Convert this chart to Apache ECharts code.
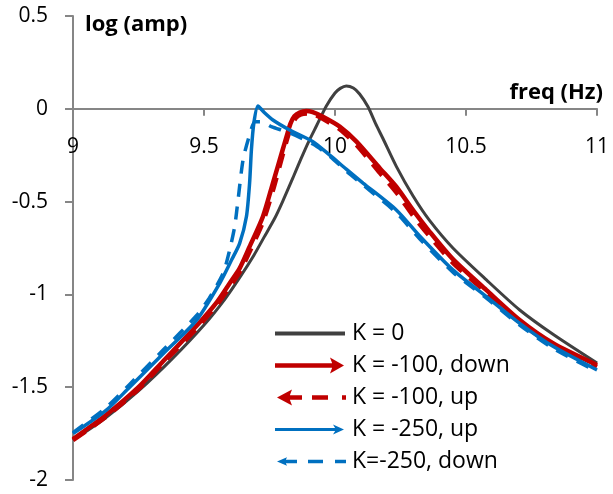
<!DOCTYPE html>
<html>
<head>
<meta charset="utf-8">
<script src="https://cdn.jsdelivr.net/npm/echarts@6/dist/echarts.min.js"></script>
<style>
  html, body { margin: 0; padding: 0; background: #fff; }
  #chart { width: 613px; height: 494px; }
</style>
</head>
<body>
<div id="chart"></div>
<script>
// Data
// ------------------------------

// K = 0
var freqK0 = [9.0, 9.12, 9.25, 9.38, 9.5, 9.58, 9.636, 9.69, 9.73, 9.77, 9.8, 9.84, 9.87, 9.9, 9.93, 9.967, 10.0, 10.02, 10.043, 10.07, 10.094, 10.126, 10.155, 10.183, 10.234, 10.298, 10.36, 10.45, 10.578, 10.705, 10.832, 11.0];
var ampK0  = [-1.785, -1.67, -1.52, -1.345, -1.165, -1.025, -0.91, -0.79, -0.69, -0.59, -0.5, -0.37, -0.27, -0.175, -0.09, 0.015, 0.085, 0.11, 0.123, 0.112, 0.08, 0.011, -0.08, -0.16, -0.31, -0.47, -0.6, -0.75, -0.922, -1.084, -1.215, -1.37];

// K = -100, down
var freqK100Down = [9.0, 9.126, 9.25, 9.344, 9.471, 9.55, 9.598, 9.636, 9.674, 9.725, 9.763, 9.8, 9.815, 9.83, 9.845, 9.865, 9.89, 9.915, 9.954, 10.018, 10.082, 10.171, 10.234, 10.3, 10.36, 10.45, 10.578, 10.705, 10.832, 11.0];
var ampK100Down  = [-1.78, -1.65, -1.5, -1.36, -1.17, -1.04, -0.94, -0.86, -0.743, -0.58, -0.4, -0.222, -0.15, -0.08, -0.04, -0.02, -0.012, -0.018, -0.043, -0.096, -0.177, -0.32, -0.42, -0.55, -0.66, -0.81, -0.977, -1.138, -1.263, -1.38];

// K = -100, up
var freqK100Up = [9.0, 9.126, 9.25, 9.344, 9.471, 9.55, 9.598, 9.636, 9.674, 9.725, 9.763, 9.8, 9.82, 9.835, 9.85, 9.87, 9.895, 9.92, 9.955, 10.018, 10.082, 10.171, 10.234, 10.3, 10.36, 10.45, 10.578, 10.705, 10.832, 11.0];
var ampK100Up  = [-1.785, -1.66, -1.51, -1.37, -1.185, -1.055, -0.96, -0.88, -0.77, -0.61, -0.44, -0.25, -0.15, -0.09, -0.05, -0.03, -0.025, -0.03, -0.055, -0.11, -0.195, -0.345, -0.45, -0.58, -0.685, -0.83, -0.99, -1.15, -1.272, -1.39];

// K = -250, up
var freqK250Up = [9.0, 9.126, 9.216, 9.344, 9.471, 9.56, 9.605, 9.636, 9.662, 9.674, 9.681, 9.69, 9.706, 9.73, 9.763, 9.827, 9.916, 9.98, 10.043, 10.107, 10.234, 10.323, 10.45, 10.578, 10.705, 10.832, 11.0];
var ampK250Up  = [-1.75, -1.625, -1.5, -1.32, -1.14, -0.94, -0.815, -0.725, -0.58, -0.4, -0.22, -0.08, 0.015, -0.02, -0.06, -0.114, -0.177, -0.25, -0.325, -0.4, -0.545, -0.685, -0.868, -1.012, -1.156, -1.28, -1.407];

// K = -250, down
var freqK250Down = [9.0, 9.126, 9.216, 9.344, 9.471, 9.52, 9.573, 9.598, 9.617, 9.63, 9.649, 9.672, 9.695, 9.719, 9.757, 9.827, 9.916, 9.98, 10.043, 10.107, 10.234, 10.323, 10.45, 10.578, 10.705, 10.832, 11.0];
var ampK250Down  = [-1.745, -1.61, -1.485, -1.3, -1.115, -1.02, -0.886, -0.76, -0.635, -0.49, -0.276, -0.15, -0.07, -0.07, -0.096, -0.13, -0.19, -0.255, -0.335, -0.41, -0.56, -0.7, -0.88, -1.02, -1.165, -1.29, -1.415];

var seriesNames = ['K = 0', 'K = -100, down', 'K = -100, up', 'K = -250, up', 'K=-250, down'];

// Legend icons (72 x 16 box, with tiny corner anchors)
var anchor = 'M0,0L0.05,0L0,0.05Z M72,16L71.95,16L72,15.95Z ';
var legendIcons = [
    anchor + 'M0,6L70,6L70,10L0,10Z',
    anchor + 'M0,5.8L58,5.8L58,10.2L0,10.2Z M69,8L55,16L58,8L55,0Z',
    anchor + 'M2,8L17,0L14,8L17,16Z M14,5.8L27,5.8L27,10.2L14,10.2Z M37,5.8L53,5.8L53,10.2L37,10.2Z M67,5.8L71,5.8L71,10.2L67,10.2Z',
    anchor + 'M0,6.5L62,6.5L62,9.5L0,9.5Z M69,8L58,13L61,8L58,3Z',
    anchor + 'M2,8L12,3.8L10,8L12,12.2Z M10,6.2L22,6.2L22,9.8L10,9.8Z M33,6.2L48,6.2L48,9.8L33,9.8Z M60,6.2L71,6.2L71,9.8L60,9.8Z'
];

function pairs(xs, ys) {
    return xs.map(function(x, i) { return [x, ys[i]]; });
}

var fontName = '"Open Sans", sans-serif';
var axisGrey = '#868686';

var chart = echarts.init(document.getElementById('chart'));

chart.setOption({
    animation: false,
    textStyle: {
        fontFamily: fontName
    },
    grid: {
        left: 73,
        right: 16,
        top: 16,
        bottom: 14,
        outerBoundsMode: 'none',
        containLabel: false
    },
    legend: {
        orient: 'vertical',
        left: 270,
        top: 317,
        itemWidth: 72,
        itemHeight: 16,
        itemGap: 9,
        itemStyle: {
            borderWidth: 0
        },
        textStyle: {
            fontFamily: fontName,
            fontSize: 23,
            lineHeight: 20,
            color: '#000'
        },
        data: seriesNames.map(function(n, i) {
            return { name: n, icon: 'path://' + legendIcons[i] };
        })
    },
    xAxis: {
        type: 'value',
        position: 'bottom',
        min: 9,
        max: 11,
        interval: 0.5,
        name: 'freq (Hz)',
        nameLocation: 'end',
        nameGap: 6,
        nameTextStyle: {
            fontFamily: fontName,
            fontSize: 22,
            fontWeight: 'bold',
            color: '#000',
            align: 'right',
            verticalAlign: 'bottom',
            padding: [0, 0, 5, 0]
        },
        axisLine: {
            onZero: false,
            lineStyle: { color: axisGrey, width: 2 }
        },
        axisTick: {
            length: 7,
            lineStyle: { color: axisGrey, width: 2 }
        },
        axisLabel: {
            margin: 28,
            fontSize: 21,
            color: '#000'
        },
        splitLine: { show: false }
    },
    yAxis: {
        type: 'value',
        min: -2,
        max: 0.5,
        interval: 0.5,
        name: 'log (amp)',
        nameLocation: 'end',
        nameGap: 2,
        nameTextStyle: {
            fontFamily: fontName,
            fontSize: 22,
            fontWeight: 'bold',
            color: '#000',
            align: 'left',
            verticalAlign: 'top',
            padding: [0, 0, 0, 12]
        },
        axisLine: {
            show: true,
            lineStyle: { color: axisGrey, width: 2 }
        },
        axisTick: {
            show: true,
            length: 8,
            lineStyle: { color: axisGrey, width: 2 }
        },
        axisLabel: {
            margin: 25,
            fontSize: 21,
            color: '#000'
        },
        splitLine: { show: false }
    },
    series: [{
        name: seriesNames[0],
        type: 'line',
        showSymbol: false,
        smooth: 0.25,
        color: '#404040',
        lineStyle: { width: 3 },
        data: pairs(freqK0, ampK0)
    }, {
        name: seriesNames[1],
        type: 'line',
        showSymbol: false,
        smooth: 0.25,
        color: '#C00000',
        lineStyle: { width: 4.5 },
        data: pairs(freqK100Down, ampK100Down)
    }, {
        name: seriesNames[2],
        type: 'line',
        showSymbol: false,
        smooth: 0.25,
        color: '#C00000',
        lineStyle: { width: 4.5, type: [15, 10] },
        data: pairs(freqK100Up, ampK100Up)
    }, {
        name: seriesNames[3],
        type: 'line',
        showSymbol: false,
        smooth: 0.25,
        color: '#0070C0',
        lineStyle: { width: 3.5 },
        data: pairs(freqK250Up, ampK250Up)
    }, {
        name: seriesNames[4],
        type: 'line',
        showSymbol: false,
        smooth: 0.25,
        color: '#0070C0',
        lineStyle: { width: 3.5, type: [13, 10] },
        data: pairs(freqK250Down, ampK250Down)
    }]
});

// Move the x axis up to the y = 0 line
var yZeroPx = chart.convertToPixel({ yAxisIndex: 0 }, 0);
var yBottomPx = chart.convertToPixel({ yAxisIndex: 0 }, -2);
chart.setOption({ xAxis: { offset: yZeroPx - yBottomPx } });
</script>
</body>
</html>
